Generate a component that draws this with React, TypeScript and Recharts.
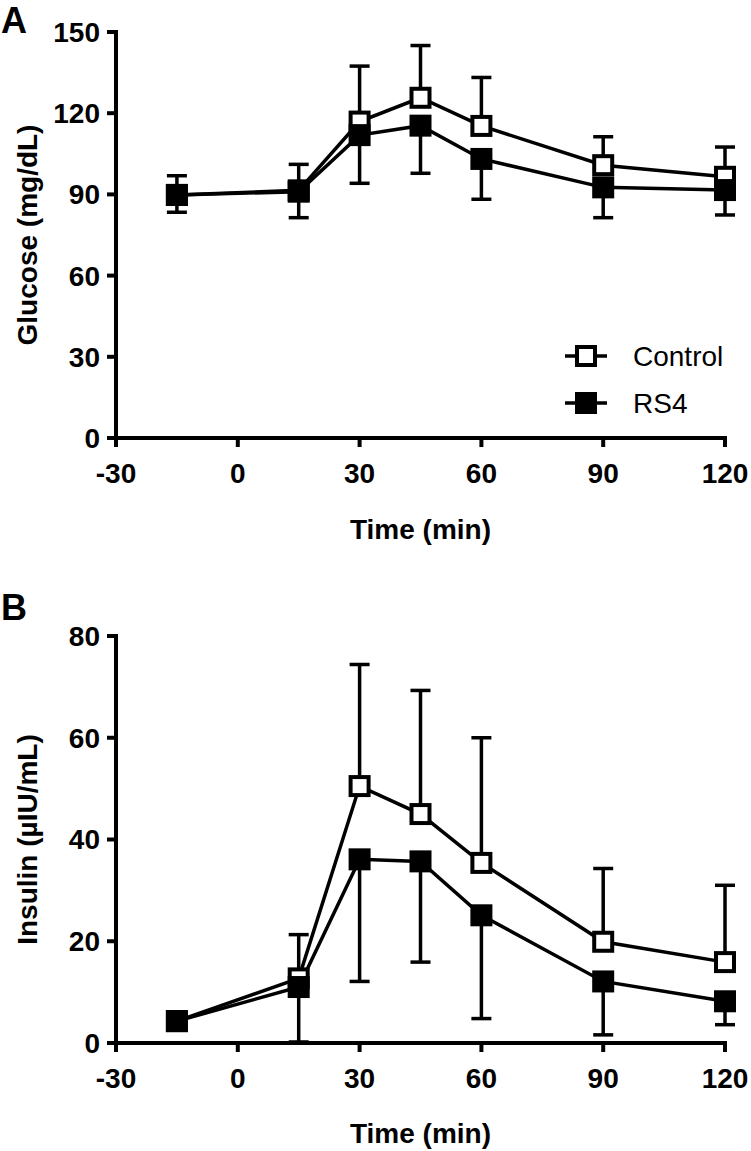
import { LineChart, Line, XAxis, YAxis, ErrorBar } from "recharts";

const FONT = '"Liberation Sans", Arial, Helvetica, sans-serif';

// sampling times (min)
const times = [-15, 15, 30, 45, 60, 90, 120];
const xTicks = [-30, 0, 30, 60, 90, 120];

// panel A - glucose (mg/dL), mean and SD
const glucoseControl = [89.8, 91.5, 116.9, 125.7, 115.3, 100.8, 96.5];
const glucoseControlSd = [7.1, 9.6, 20.5, 19.3, 17.9, 10.5, 11.0];
const glucoseRs4 = [89.8, 91.0, 111.9, 115.4, 103.1, 92.6, 91.6];
const glucoseRs4Sd = [6.4, 9.6, 17.8, 17.6, 14.9, 11.2, 9.2];
const glucoseTicks = [0, 30, 60, 90, 120, 150];

// panel B - insulin (µIU/mL), mean and SD
const insulinControl = [4.3, 12.7, 50.5, 45.0, 35.4, 19.9, 15.9];
const insulinControlSd = [0.6, 8.6, 23.9, 24.3, 24.6, 14.4, 15.1];
const insulinRs4 = [4.3, 11.0, 36.1, 35.7, 25.1, 12.1, 8.2];
const insulinRs4Sd = [0.6, 10.8, 24.0, 19.8, 20.3, 10.5, 4.6];
const insulinTicks = [0, 20, 40, 60, 80];

const series = [
  { key: "control", name: "Control", fill: "#fff" },
  { key: "rs4", name: "RS4", fill: "#000" },
];

const buildRows = (ctrl: number[], ctrlSd: number[], rs4: number[], rs4Sd: number[]) =>
  times.map((t, i) => ({
    t,
    control: ctrl[i],
    controlErr: [0, ctrlSd[i]],
    rs4: rs4[i],
    rs4Err: [rs4Sd[i], 0],
  }));

const squareDot = (fill: string) => (props: any) => {
  const { cx, cy, index } = props;
  if (cx == null || cy == null) return <g key={index} />;
  return (
    <rect key={index} x={cx - 9} y={cy - 9} width={18} height={18} fill={fill} stroke="#000" strokeWidth={4} />
  );
};

const tickStyle = { fontSize: 28, fontWeight: "bold", fill: "#000", fontFamily: FONT };
const titleStyle = { fontSize: 28, fontWeight: "bold", fill: "#000", fontFamily: FONT };
const axisLine = { stroke: "#000", strokeWidth: 4, strokeLinecap: "square" as const };
const tickLine = { stroke: "#000", strokeWidth: 4 };

type PanelProps = {
  letter: string;
  letterY: number;
  top: number;
  height: number;
  marginTop: number;
  xAxisHeight: number;
  titleOffset: number;
  rows: any[];
  yDomain: [number, number];
  yTicks: number[];
  yLabel: string;
  legend?: boolean;
};

const Panel = (p: PanelProps) => {
  return (
    <div style={{ position: "absolute", left: 0, top: p.top, width: 751, height: p.height }}>
      <LineChart
        width={751}
        height={p.height}
        data={p.rows}
        margin={{ top: p.marginTop, right: 26, bottom: 0, left: 0 }}
      >
        <XAxis
          type="number"
          dataKey="t"
          domain={[-30, 120]}
          ticks={xTicks}
          interval={0}
          height={p.xAxisHeight}
          tickSize={9}
          tickMargin={16}
          tick={tickStyle}
          axisLine={axisLine}
          tickLine={tickLine}
          label={{ value: "Time (min)", position: "insideBottom", offset: p.titleOffset, style: titleStyle }}
        />
        <YAxis
          type="number"
          domain={p.yDomain}
          ticks={p.yTicks}
          interval={0}
          width={116}
          tickSize={9}
          tickMargin={7}
          tick={tickStyle}
          axisLine={axisLine}
          tickLine={tickLine}
          label={{
            value: p.yLabel,
            angle: -90,
            position: "insideLeft",
            offset: 27,
            style: { ...titleStyle, textAnchor: "middle" },
          }}
        />
        {series.map((s) => (
          <Line
            key={s.key}
            type="linear"
            dataKey={s.key}
            name={s.name}
            stroke="#000"
            strokeWidth={3.5}
            dot={squareDot(s.fill)}
            activeDot={false}
            isAnimationActive={false}
          >
            <ErrorBar
              dataKey={s.key + "Err"}
              direction="y"
              width={10}
              stroke="#000"
              strokeWidth={3.5}
              isAnimationActive={false}
            />
          </Line>
        ))}
      </LineChart>
      <svg
        width={751}
        height={p.height}
        style={{ position: "absolute", left: 0, top: 0, pointerEvents: "none" }}
      >
        <text x={1} y={p.letterY} fontSize={36} fontWeight="bold" fontFamily={FONT} fill="#000">
          {p.letter}
        </text>
        {p.legend &&
          series.map((s, i) => {
            const cy = 356 + i * 47;
            return (
              <g key={s.key}>
                <line x1={565} x2={607} y1={cy} y2={cy} stroke="#000" strokeWidth={3.5} />
                <rect x={577} y={cy - 9} width={18} height={18} fill={s.fill} stroke="#000" strokeWidth={4} />
                <text x={633} y={cy + 10} fontSize={28} fontFamily={FONT} fill="#000">
                  {s.name}
                </text>
              </g>
            );
          })}
      </svg>
    </div>
  );
};

export default function App() {
  return (
    <div
      style={{
        position: "absolute",
        left: 0,
        top: 0,
        width: 751,
        height: 1151,
        background: "#fff",
        fontFamily: FONT,
      }}
    >
      <Panel
        letter="A"
        letterY={33}
        top={0}
        height={575}
        marginTop={32}
        xAxisHeight={137}
        titleOffset={36}
        rows={buildRows(glucoseControl, glucoseControlSd, glucoseRs4, glucoseRs4Sd)}
        yDomain={[0, 150]}
        yTicks={glucoseTicks}
        yLabel="Glucose (mg/dL)"
        legend
      />
      <Panel
        letter="B"
        letterY={45}
        top={575}
        height={576}
        marginTop={61}
        xAxisHeight={108}
        titleOffset={8}
        rows={buildRows(insulinControl, insulinControlSd, insulinRs4, insulinRs4Sd)}
        yDomain={[0, 80]}
        yTicks={insulinTicks}
        yLabel="Insulin (µIU/mL)"
      />
    </div>
  );
}
